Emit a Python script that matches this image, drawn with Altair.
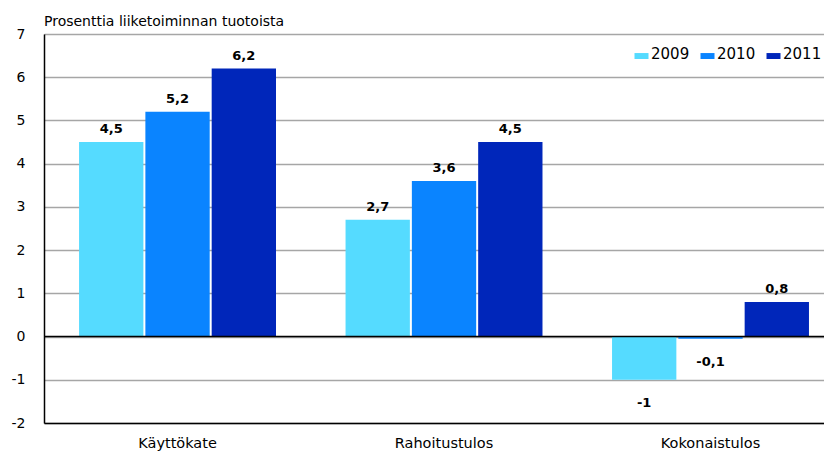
import altair as alt
import pandas as pd

categories = ["Käyttökate", "Rahoitustulos", "Kokonaistulos"]
years = ["2009", "2010", "2011"]
v2009 = [4.5, 2.7, -1.0]
v2010 = [5.2, 3.6, -0.05]
v2011 = [6.2, 4.5, 0.8]
l2009 = ["4,5", "2,7", "-1"]
l2010 = ["5,2", "3,6", "-0,1"]
l2011 = ["6,2", "4,5", "0,8"]
colors = ["#55DBFF", "#0A84FF", "#0026BA"]
y_ticks = [-2, -1, 0, 1, 2, 3, 4, 5, 6, 7]
subtitle = "Prosenttia liiketoiminnan tuotoista"

rows = []
for yr, vals, labs in zip(years, [v2009, v2010, v2011], [l2009, l2010, l2011]):
    for c, v, l in zip(categories, vals, labs):
        rows.append({"category": c, "year": yr, "value": v, "label": l})
df = pd.DataFrame(rows)

FONT = "DejaVu Sans"

x_enc = alt.X("category:N", sort=categories,
              scale=alt.Scale(paddingInner=0.261, paddingOuter=0.094, align=0.7),
              axis=alt.Axis(title=None, labelAngle=0, ticks=False, labelPadding=13,
                            labelFontSize=14.5, labelFont=FONT, labelColor="#000",
                            domainColor="#000", domainWidth=1.5))
xo_enc = alt.XOffset("year:N", sort=years, scale=alt.Scale(paddingInner=0.03, paddingOuter=0))
y_scale = alt.Scale(domain=[-2, 7], nice=False)

base = alt.Chart(df)

bars = base.mark_bar().encode(
    x=x_enc,
    xOffset=xo_enc,
    y=alt.Y("value:Q", scale=y_scale,
            axis=alt.Axis(title=None, values=y_ticks, ticks=False, labelPadding=19,
                          labelExpr="'' + datum.value",
                          labelFontSize=14, labelFont=FONT, labelColor="#000",
                          grid=True, gridColor="#a6a6a6", gridWidth=1.5,
                          domainColor="#000", domainWidth=1.5)),
    color=alt.Color("year:N", sort=years,
                    scale=alt.Scale(domain=years, range=colors),
                    legend=alt.Legend(title=None, orient="none", direction="horizontal",
                                      legendX=590, legendY=12,
                                      symbolType="M-1,-0.1H1V0.75H-1Z", symbolSize=196,
                                      symbolStrokeWidth=0, symbolOpacity=1,
                                      labelFont=FONT, labelFontSize=15, labelColor="#000",
                                      labelOffset=2, columnPadding=10, padding=0)),
)

pos_text = base.transform_filter("datum.value >= 0").mark_text(
    font=FONT, fontSize=13, fontWeight="bold", baseline="alphabetic", dy=-9, color="#000"
).encode(x=x_enc, xOffset=xo_enc, y=alt.Y("value:Q", scale=y_scale), text="label:N")

neg_text = base.transform_filter("datum.value < 0").mark_text(
    font=FONT, fontSize=13, fontWeight="bold", baseline="alphabetic", dy=27, color="#000"
).encode(x=x_enc, xOffset=xo_enc, y=alt.Y("value:Q", scale=y_scale), text="label:N")

zero = alt.Chart(pd.DataFrame({"z": [0]})).mark_rule(color="#000", strokeWidth=1.5).encode(
    y=alt.Y("z:Q", scale=y_scale)
)

chart = alt.layer(bars, zero, pos_text, neg_text).properties(
    width=780, height=389,
    autosize=alt.AutoSizeParams(type="none"),
    padding={"left": 36, "top": 26, "right": 0, "bottom": 31},
    title=alt.TitleParams(subtitle, anchor="start", frame="group", font=FONT,
                          fontSize=14, fontWeight="normal", color="#000", offset=-2),
).configure_view(stroke=None).configure(background="white")

chart.save("out.html", embed_options={"renderer": "svg", "actions": False})
